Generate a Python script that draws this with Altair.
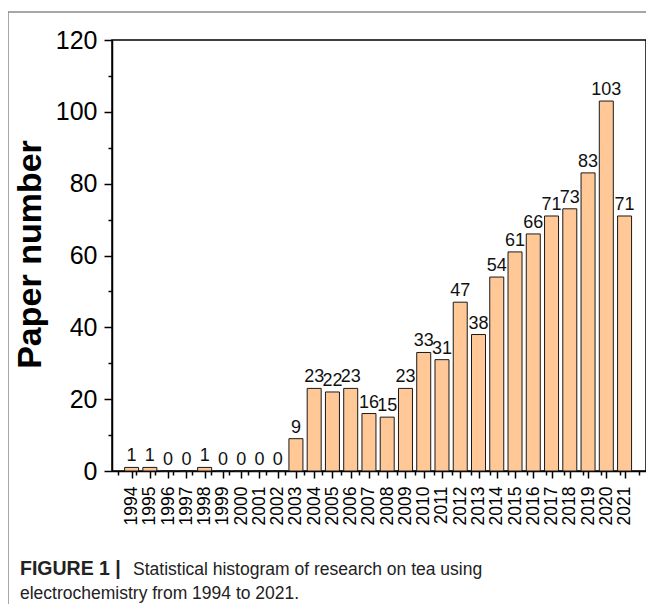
import altair as alt
import pandas as pd

years = list(range(1994, 2022))
papers = [1, 1, 0, 0, 1, 0, 0, 0, 0, 9, 23, 22, 23, 16, 15, 23, 33, 31,
          47, 38, 54, 61, 66, 71, 73, 83, 103, 71]
y_major = [0, 20, 40, 60, 80, 100, 120]
y_minor = [10, 30, 50, 70, 90, 110]
x_minor = [y + 0.5 for y in range(1993, 2022)]
y_title = "Paper number"
caption_bold = "FIGURE 1 |"
caption_1 = "Statistical histogram of research on tea using"
caption_2 = "electrochemistry from 1994 to 2021."

FONT = "Liberation Sans"
df = pd.DataFrame({"year": years, "papers": papers})
one = pd.DataFrame({"k": [0]})

xs = alt.Scale(domain=[1993.2, 2021.9], nice=False, zero=False)
ys = alt.Scale(domain=[0, 120], nice=False, zero=True)

x_axis = alt.Axis(
    orient="bottom", values=years, format="d", labelAngle=-90, labelFontSize=17.5,
    tickSize=7, labelPadding=8, title=None, grid=False, labelOverlap=False,
    labelFlush=False, labelBound=False)
y_axis = alt.Axis(
    orient="left", values=y_major, labelFontSize=25, tickSize=8, labelPadding=7,
    grid=False, title=y_title, titleFontSize=34, titleFontWeight="bold",
    titleFont=FONT, titleAngle=270, titleX=-72, titleY=214,
    titleAlign="center", titleBaseline="alphabetic", labelFlush=False,
    labelOverlap=False)

bars = alt.Chart(df).mark_bar(size=14, fill="#FFC896", stroke="#1a1a1a", strokeWidth=1).encode(
    x=alt.X("year:Q", scale=xs, axis=x_axis),
    y=alt.Y("papers:Q", scale=ys, axis=y_axis),
)

labels = alt.Chart(df).mark_text(baseline="bottom", dy=-2, fontSize=18, font=FONT, color="#111").encode(
    x=alt.X("year:Q", scale=xs, axis=x_axis),
    y=alt.Y("papers:Q", scale=ys, axis=y_axis),
    text=alt.Text("papers:Q"),
)

main = alt.layer(bars, labels)

minor_x = pd.DataFrame({"xm": x_minor})
minor = alt.Chart(minor_x).mark_point(opacity=0).encode(
    x=alt.X("xm:Q", scale=xs, axis=alt.Axis(
        orient="bottom", values=x_minor, labels=False, tickSize=4, domain=False,
        grid=False, title=None)),
    y=alt.Y("yv:Q", scale=ys, axis=alt.Axis(
        orient="left", values=y_minor, labels=False, tickSize=4, domain=False,
        grid=False, title=None)),
).transform_calculate(yv="0")

frame_left = alt.Chart(one).mark_rule(color="#8a8a8a", strokeWidth=1.5).encode(
    x=alt.value(-104), y=alt.value(-28), y2=alt.value(600))
frame_top = alt.Chart(one).mark_rule(color="#8a8a8a", strokeWidth=1.5).encode(
    x=alt.value(-104), x2=alt.value(700), y=alt.value(-28))

cap_b = alt.Chart(one).mark_text(align="left", baseline="alphabetic", fontSize=19.5,
                                 fontWeight="bold", font=FONT, color="#222").encode(
    x=alt.value(-92), y=alt.value(535), text=alt.value(caption_bold))
cap_1 = alt.Chart(one).mark_text(align="left", baseline="alphabetic", fontSize=17.5,
                                 font=FONT, color="#222").encode(
    x=alt.value(21), y=alt.value(535), text=alt.value(caption_1))
cap_2 = alt.Chart(one).mark_text(align="left", baseline="alphabetic", fontSize=17.5,
                                 font=FONT, color="#222").encode(
    x=alt.value(-92), y=alt.value(559), text=alt.value(caption_2))

chart = alt.layer(main, minor, frame_left, frame_top, cap_b, cap_1, cap_2).resolve_scale(
    x="independent", y="independent"
).properties(
    width=534, height=431,
    autosize=alt.AutoSizeParams(type="none"),
    padding={"left": 104, "top": 32, "right": 0, "bottom": 133},
).configure_view(
    stroke="black", strokeWidth=1.5
).configure_axis(
    domainColor="black", domainWidth=1.5, tickColor="black", tickWidth=1.5,
    labelColor="black", labelFont=FONT, titleColor="black"
)

chart.save("out.html", embed_options={"renderer": "svg", "actions": False})
